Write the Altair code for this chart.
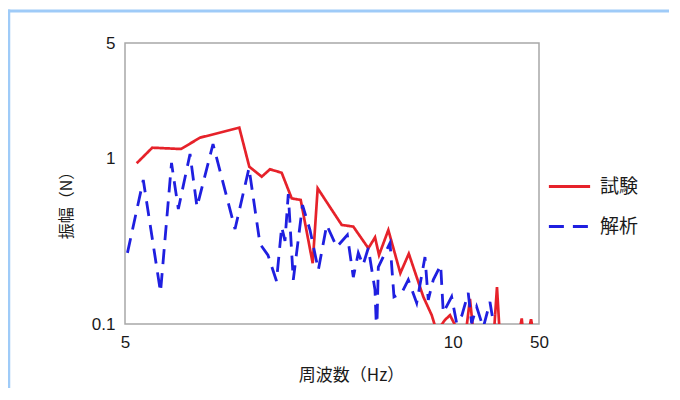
import altair as alt
import pandas as pd

# 試験 (test) series
red_freq = [5.125, 5.297, 5.629, 5.859, 6.367, 6.503, 6.676, 6.794, 6.964, 7.113,
            7.25, 7.436, 7.515, 7.907, 8.103, 8.365, 8.484, 8.556, 8.726, 8.95,
            9.112, 9.396, 9.565, 9.667, 9.837, 9.942, 10.117, 10.284, 10.37, 10.443,
            10.911, 10.98, 11.04, 11.51, 11.57, 11.6, 11.74, 11.80, 11.85]
red_amp = [0.937, 1.164, 1.143, 1.338, 1.538, 0.894, 0.777, 0.862, 0.821, 0.575,
           0.562, 0.233, 0.661, 0.397, 0.388, 0.287, 0.334, 0.261, 0.37, 0.203,
           0.266, 0.146, 0.113, 0.09, 0.106, 0.113, 0.09, 0.09, 0.142, 0.09,
           0.09, 0.167, 0.09, 0.09, 0.108, 0.09, 0.09, 0.107, 0.09]

# 解析 (analysis) series
blue_freq = [5.026, 5.197, 5.390, 5.517, 5.546, 5.597, 5.737, 5.822, 6.023, 6.310,
             6.499, 6.652, 6.765, 6.888, 6.964, 7.013, 7.062, 7.137, 7.278, 7.394,
             7.525, 7.660, 7.824, 8.001, 8.103, 8.189, 8.271, 8.364, 8.483, 8.514,
             8.543, 8.757, 8.831, 8.976, 9.102, 9.265, 9.429, 9.495, 9.596, 9.747,
             9.801, 9.976, 10.082, 10.196, 10.332, 10.407, 10.517, 10.665, 10.818, 10.893,
             11.05, 11.29, 11.38]
blue_amp = [0.269, 0.742, 0.156, 0.941, 0.742, 0.496, 1.067, 0.510, 1.225, 0.375,
            0.877, 0.305, 0.261, 0.182, 0.386, 0.318, 0.611, 0.185, 0.524, 0.370,
            0.212, 0.397, 0.292, 0.345, 0.192, 0.269, 0.227, 0.288, 0.161, 0.085,
            0.221, 0.309, 0.146, 0.154, 0.185, 0.134, 0.254, 0.140, 0.185, 0.227,
            0.117, 0.146, 0.101, 0.113, 0.154, 0.101, 0.127, 0.095, 0.136, 0.103,
            0.09, 0.099, 0.09]

series_names = ["試験", "解析"]
series_colors = ["#e6222a", "#1f1fe0"]
series_dashes = [[1, 0], [15, 9]]

x_ticks = [5, 10, 12]
y_ticks = [0.1, 1, 5]

red_df = pd.DataFrame({"freq": red_freq, "amp": red_amp, "series": series_names[0]})
blue_df = pd.DataFrame({"freq": blue_freq, "amp": blue_amp, "series": series_names[1]})

legend = alt.Legend(
    orient="none", legendX=422, legendY=121, title=None,
    symbolType="stroke", symbolSize=1700, symbolStrokeWidth=2.8,
    labelFontSize=19, labelFont="Noto Sans CJK JP", labelColor="#1a1a1a",
    labelOffset=8, rowPadding=7, padding=0,
)

x_enc = alt.X(
    "freq:Q",
    scale=alt.Scale(type="log", domain=[5, 12], nice=False),
    axis=alt.Axis(
        values=x_ticks, format="~g",
        labelExpr="datum.value > 11 ? '50' : datum.label",
        ticks=False, grid=False, domain=False, labelFlush=False, labelOverlap=False,
        labelPadding=10, labelFontSize=17, labelFont="Liberation Sans", labelColor="#1a1a1a",
        title="周波数（Hz）", titleFont="Noto Sans CJK JP", titleFontSize=17,
        titleFontWeight="normal", titleColor="#1a1a1a",
        titleX=226, titleY=51, titleBaseline="middle", titleAlign="center",
    ),
)
y_enc = alt.Y(
    "amp:Q",
    scale=alt.Scale(type="log", domain=[0.1, 5], nice=False),
    axis=alt.Axis(
        values=y_ticks, format="~g",
        ticks=False, grid=False, domain=False, labelFlush=False, labelOverlap=False,
        labelPadding=10, labelFontSize=17, labelFont="Liberation Sans", labelColor="#1a1a1a",
        title="振幅（N）", titleFont="Noto Sans CJK JP", titleFontSize=16,
        titleFontWeight="normal", titleColor="#1a1a1a", titleAngle=270,
        titleX=-59, titleY=158, titleBaseline="middle", titleAlign="center",
    ),
)
color_enc = alt.Color("series:N", scale=alt.Scale(domain=series_names, range=series_colors), legend=legend)
dash_enc = alt.StrokeDash("series:N", scale=alt.Scale(domain=series_names, range=series_dashes), legend=legend)

red_line = alt.Chart(red_df).mark_line(clip=True, strokeWidth=2.7).encode(
    x=x_enc, y=y_enc, color=color_enc, strokeDash=dash_enc)
blue_line = alt.Chart(blue_df).mark_line(clip=True, strokeWidth=2.8).encode(
    x=x_enc, y=y_enc, color=color_enc, strokeDash=dash_enc)

dummy = alt.Data(values=[{"a": 1}])
border_top = alt.Chart(dummy).mark_rule(color="#9fcbf8", strokeWidth=3).encode(
    x=alt.value(-117), x2=alt.value(544), y=alt.value(-32))
border_left = alt.Chart(dummy).mark_rule(color="#9fcbf8", strokeWidth=3.5).encode(
    x=alt.value(-116.5), y=alt.value(-33.5), y2=alt.value(345))

chart = alt.layer(border_top, border_left, red_line, blue_line).properties(
    width=414, height=281,
    padding={"left": 117, "top": 35, "right": 130, "bottom": 64},
    autosize=alt.AutoSizeParams(type="none"),
    background="white",
).configure_view(stroke="#a8a8a8", strokeWidth=1.5)

chart.save("out.html", embed_options={"renderer": "svg", "actions": False})
